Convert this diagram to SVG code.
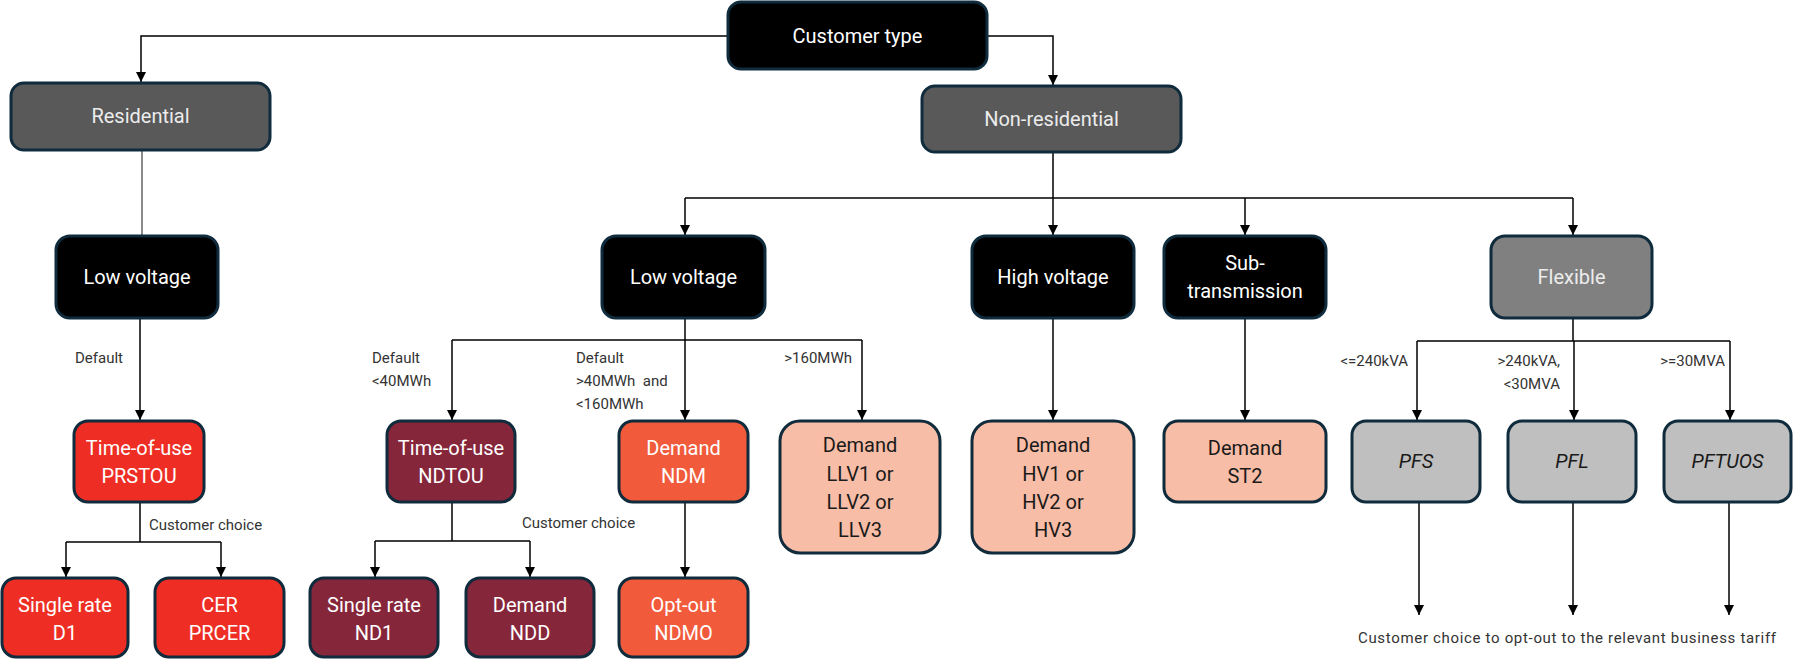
<svg xmlns="http://www.w3.org/2000/svg" width="1793" height="659" viewBox="0 0 1793 659">
<defs>
<marker id="ah" viewBox="0 0 10 10" refX="10" refY="5" markerWidth="10" markerHeight="10" markerUnits="userSpaceOnUse" orient="auto"><path d="M0,0 L10,5 L0,10 z" fill="#000"/></marker>
<style>
.n{stroke:#0f2b3c;stroke-width:3}
.t{font-family:Roboto,"Liberation Sans",sans-serif;font-size:20px;text-anchor:middle}
.w{fill:#fff}
.g{fill:#ececec}
.k{fill:#1a1a1a}
.i{font-style:italic}
.l{font-family:Roboto,"Liberation Sans",sans-serif;font-size:15px;fill:#333}
.e{text-anchor:end}
.c{fill:none;stroke:#000;stroke-width:1.5}
.a{marker-end:url(#ah)}
</style>
</defs>
<rect width="1793" height="659" fill="#fff"/>
<g id="connectors">
<path class="c a" d="M728,36 H141 V82"/>
<path class="c a" d="M987,36 H1053 V85"/>
<path d="M142,151 V236" fill="none" stroke="#8a8a8a" stroke-width="2"/>
<path class="c" d="M1053,152 V198 M685,198 H1573"/>
<path class="c a" d="M685,198 V235"/>
<path class="c a" d="M1053,198 V235"/>
<path class="c a" d="M1245,198 V235"/>
<path class="c a" d="M1573,198 V235"/>
<path class="c a" d="M140,318 V420"/>
<path class="c" d="M140,502 V542 M66,542 H221"/>
<path class="c a" d="M66,542 V577"/>
<path class="c a" d="M221,542 V577"/>
<path class="c a" d="M685,318 V420"/>
<path class="c" d="M452,340 H862"/>
<path class="c a" d="M452,340 V420"/>
<path class="c a" d="M862,340 V420"/>
<path class="c" d="M452,502 V541 M375,541 H530"/>
<path class="c a" d="M375,541 V577"/>
<path class="c a" d="M530,541 V577"/>
<path class="c a" d="M685,502 V577"/>
<path class="c a" d="M1053,318 V420"/>
<path class="c a" d="M1245,318 V420"/>
<path class="c" d="M1573,318 V341 M1417,341 H1730"/>
<path class="c a" d="M1417,341 V420"/>
<path class="c a" d="M1574,341 V420"/>
<path class="c a" d="M1730,341 V420"/>
<path class="c a" d="M1419,503 V615"/>
<path class="c a" d="M1573,503 V615"/>
<path class="c a" d="M1729,503 V615"/>
<text class="l" x="75" y="363">Default</text>
<text class="l" x="149" y="530">Customer choice</text>
<text class="l" x="372" y="363">Default</text>
<text class="l" x="372" y="386">&lt;40MWh</text>
<text class="l" x="576" y="363">Default</text>
<text class="l" x="576" y="386" xml:space="preserve">&gt;40MWh  and</text>
<text class="l" x="576" y="409">&lt;160MWh</text>
<text class="l e" x="852" y="363">&gt;160MWh</text>
<text class="l" x="522" y="528">Customer choice</text>
<text class="l e" x="1408" y="366">&lt;=240kVA</text>
<text class="l e" x="1560" y="366">&gt;240kVA,</text>
<text class="l e" x="1560" y="389">&lt;30MVA</text>
<text class="l e" x="1725" y="366">&gt;=30MVA</text>
<text class="l" x="1358" y="643" textLength="418">Customer choice to opt-out to the relevant business tariff</text>
</g>
<g id="customer-type"><rect class="n" x="728" y="2" width="259" height="67" rx="13" fill="#000"/><text class="t w" x="857.5" y="43">Customer type</text></g>
<g id="residential"><rect class="n" x="11" y="83" width="259" height="67" rx="13" fill="#595959"/><text class="t g" x="140.5" y="123">Residential</text></g>
<g id="non-residential"><rect class="n" x="922" y="86" width="259" height="66" rx="13" fill="#595959"/><text class="t g" x="1051.5" y="126">Non-residential</text></g>
<g id="lv-res"><rect class="n" x="56" y="236" width="162" height="82" rx="14" fill="#000"/><text class="t w" x="137" y="284">Low voltage</text></g>
<g id="lv-nonres"><rect class="n" x="602" y="236" width="163" height="82" rx="14" fill="#000"/><text class="t w" x="683.5" y="284">Low voltage</text></g>
<g id="hv"><rect class="n" x="972" y="236" width="162" height="82" rx="14" fill="#000"/><text class="t w" x="1053" y="284">High voltage</text></g>
<g id="subtx"><rect class="n" x="1164" y="236" width="162" height="82" rx="14" fill="#000"/><text class="t w" x="1245" y="270">Sub-</text><text class="t w" x="1245" y="298">transmission</text></g>
<g id="flexible"><rect class="n" x="1491" y="236" width="161" height="82" rx="14" fill="#808080"/><text class="t g" x="1571.5" y="284">Flexible</text></g>
<g id="prstou"><rect class="n" x="74" y="421" width="130" height="81" rx="14" fill="#ee2e24"/><text class="t w" x="139" y="455">Time-of-use</text><text class="t w" x="139" y="483">PRSTOU</text></g>
<g id="d1"><rect class="n" x="2" y="578" width="126" height="79" rx="14" fill="#ee2e24"/><text class="t w" x="65" y="612">Single rate</text><text class="t w" x="65" y="640">D1</text></g>
<g id="prcer"><rect class="n" x="155" y="578" width="129" height="79" rx="14" fill="#ee2e24"/><text class="t w" x="219.5" y="612">CER</text><text class="t w" x="219.5" y="640">PRCER</text></g>
<g id="ndtou"><rect class="n" x="387" y="421" width="128" height="81" rx="14" fill="#86263a"/><text class="t w" x="451" y="455">Time-of-use</text><text class="t w" x="451" y="483">NDTOU</text></g>
<g id="nd1"><rect class="n" x="310" y="578" width="128" height="79" rx="14" fill="#86263a"/><text class="t w" x="374" y="612">Single rate</text><text class="t w" x="374" y="640">ND1</text></g>
<g id="ndd"><rect class="n" x="466" y="578" width="128" height="79" rx="14" fill="#86263a"/><text class="t w" x="530" y="612">Demand</text><text class="t w" x="530" y="640">NDD</text></g>
<g id="ndm"><rect class="n" x="619" y="421" width="129" height="81" rx="14" fill="#f15a3b"/><text class="t w" x="683.5" y="455">Demand</text><text class="t w" x="683.5" y="483">NDM</text></g>
<g id="ndmo"><rect class="n" x="619" y="578" width="129" height="79" rx="14" fill="#f15a3b"/><text class="t w" x="683.5" y="612">Opt-out</text><text class="t w" x="683.5" y="640">NDMO</text></g>
<g id="llv"><rect class="n" x="780" y="421" width="160" height="132" rx="20" fill="#f8bda6"/><text class="t k" x="860" y="452">Demand</text><text class="t k" x="860" y="480.5">LLV1 or</text><text class="t k" x="860" y="509">LLV2 or</text><text class="t k" x="860" y="537">LLV3</text></g>
<g id="hvd"><rect class="n" x="972" y="421" width="162" height="132" rx="20" fill="#f8bda6"/><text class="t k" x="1053" y="452">Demand</text><text class="t k" x="1053" y="480.5">HV1 or</text><text class="t k" x="1053" y="509">HV2 or</text><text class="t k" x="1053" y="537">HV3</text></g>
<g id="st2"><rect class="n" x="1164" y="421" width="162" height="81" rx="14" fill="#f8bda6"/><text class="t k" x="1245" y="455">Demand</text><text class="t k" x="1245" y="483">ST2</text></g>
<g id="pfs"><rect class="n" x="1352" y="421" width="128" height="81" rx="14" fill="#bfbfbf"/><text class="t k i" x="1416" y="468">PFS</text></g>
<g id="pfl"><rect class="n" x="1508" y="421" width="128" height="81" rx="14" fill="#bfbfbf"/><text class="t k i" x="1572" y="468">PFL</text></g>
<g id="pftuos"><rect class="n" x="1664" y="421" width="127" height="81" rx="14" fill="#bfbfbf"/><text class="t k i" x="1727.5" y="468">PFTUOS</text></g>
</svg>
